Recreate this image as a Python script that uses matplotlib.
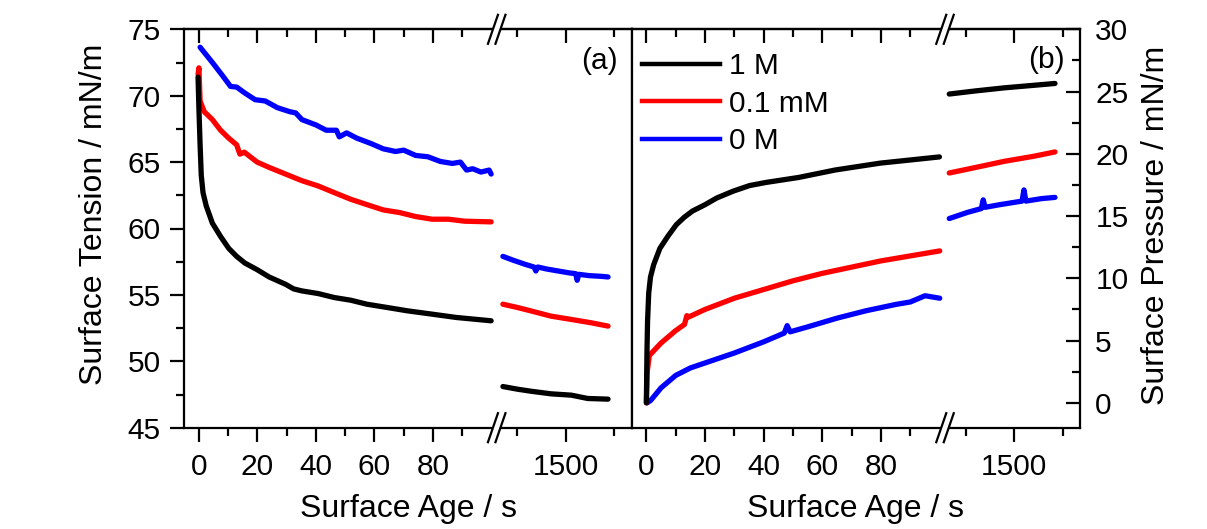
import matplotlib
matplotlib.use("Agg")
import matplotlib.pyplot as plt
from matplotlib.lines import Line2D
from matplotlib.patches import Polygon
from matplotlib.ticker import FixedLocator

plt.rcParams['font.family'] = ['Liberation Sans', 'DejaVu Sans']

# ---------------------------------------------------------------------------
# Data
# ---------------------------------------------------------------------------
# (a) surface tension, early times (s, mN/m)
a_black_t = [-0.3, 0.0, 0.4, 0.8, 1.4, 2.5, 4.6, 7.4, 10.2, 12.9, 15.7, 19.9, 24.0,
             29.6, 32.4, 35.2, 40.8, 46.3, 51.9, 57.4, 64.4, 71.3, 79.7, 88.0, 99.9]
a_black_g = [71.4, 69.0, 66.3, 64.0, 62.7, 61.7, 60.4, 59.4, 58.5, 57.9, 57.4, 56.9, 56.35,
             55.8, 55.45, 55.3, 55.1, 54.8, 54.6, 54.3, 54.05, 53.8, 53.55, 53.3, 53.05]

a_red_t = [-0.3, 0.0, 0.4, 1.8, 4.6, 7.4, 10.2, 12.9, 14.0, 15.5, 19.9, 24.0, 29.6,
           35.2, 40.8, 46.3, 51.9, 57.4, 63.0, 68.6, 74.1, 79.7, 85.3, 90.8, 99.9]
a_red_g = [71.6, 72.1, 69.6, 68.8, 68.2, 67.4, 66.8, 66.3, 65.6, 65.75, 65.0, 64.6, 64.1,
           63.6, 63.2, 62.7, 62.2, 61.8, 61.4, 61.2, 60.9, 60.7, 60.7, 60.55, 60.5]

a_blue_t = [0.4, 4.6, 8.1, 10.8, 12.9, 15.7, 19.2, 22.7, 26.8, 31.0, 33.1, 35.2, 40.0,
            43.5, 47.0, 48.0, 50.5, 54.0, 58.8, 63.0, 67.2, 70.0, 74.1, 78.3, 82.5,
            86.6, 89.4, 91.5, 93.6, 96.4, 99.2, 99.9]
a_blue_g = [73.65, 72.5, 71.5, 70.7, 70.65, 70.2, 69.7, 69.6, 69.1, 68.8, 68.7, 68.2, 67.8,
            67.4, 67.4, 66.9, 67.2, 66.8, 66.4, 66.0, 65.8, 65.9, 65.5, 65.4, 65.05,
            64.9, 65.0, 64.4, 64.5, 64.25, 64.4, 64.1]

# (a) surface tension, late times
a_black_t_late = [1175, 1250, 1318, 1423, 1528, 1612, 1717]
a_black_g_late = [48.1, 47.9, 47.75, 47.55, 47.45, 47.2, 47.15]
a_red_t_late = [1175, 1250, 1318, 1423, 1528, 1630, 1717]
a_red_g_late = [54.3, 54.05, 53.8, 53.4, 53.15, 52.9, 52.65]
a_blue_t_late = [1175, 1230, 1290, 1335, 1345, 1355, 1400, 1460, 1520, 1550, 1558,
                 1566, 1620, 1680, 1717]
a_blue_g_late = [57.9, 57.6, 57.3, 57.1, 56.8, 57.1, 56.95, 56.8, 56.65, 56.6, 56.1,
                 56.55, 56.45, 56.4, 56.35]

# (b) surface pressure, early times (s, mN/m)
b_black_t = [0.0, 0.2, 0.4, 0.8, 1.4, 2.5, 4.6, 7.4, 10.2, 12.9, 15.7, 19.9, 24.0,
             29.6, 35.2, 40.8, 51.9, 64.4, 79.7, 99.9]
b_black_p = [0.0, 4.0, 6.5, 8.8, 10.1, 11.1, 12.4, 13.4, 14.3, 14.9, 15.4, 15.9, 16.45,
             17.0, 17.45, 17.7, 18.1, 18.7, 19.25, 19.75]
b_red_t = [0.0, 0.3, 1.0, 5.0, 10.0, 13.0, 13.8, 14.5, 20.0, 30.0, 40.0, 50.0, 60.0,
           70.0, 80.0, 90.0, 100.0]
b_red_p = [0.0, 2.5, 3.8, 4.8, 5.8, 6.3, 7.0, 6.9, 7.5, 8.4, 9.1, 9.8, 10.4,
           10.9, 11.4, 11.8, 12.2]
b_blue_t = [0.3, 1.5, 5.0, 10.0, 15.0, 20.0, 30.0, 40.0, 47.0, 48.0, 49.0, 55.0, 65.0,
            75.0, 85.0, 90.0, 95.0, 100.0]
b_blue_p = [0.0, 0.2, 1.2, 2.2, 2.8, 3.2, 4.0, 4.9, 5.6, 6.2, 5.7, 6.1, 6.8,
            7.4, 7.9, 8.1, 8.6, 8.4]

# (b) surface pressure, late times
b_black_t_late = [1165, 1300, 1450, 1600, 1710]
b_black_p_late = [24.8, 25.05, 25.3, 25.5, 25.65]
b_red_t_late = [1165, 1300, 1450, 1600, 1710]
b_red_p_late = [18.46, 18.9, 19.4, 19.8, 20.15]
b_blue_t_late = [1165, 1260, 1330, 1340, 1350, 1420, 1540, 1550, 1560, 1640, 1710]
b_blue_p_late = [14.8, 15.3, 15.6, 16.3, 15.7, 15.9, 16.2, 17.1, 16.2, 16.4, 16.5]

labels = ["1 M", "0.1 mM", "0 M"]
colors = ["#000000", "#ff0000", "#0000ff"]

early_ticks, early_minor = [0, 20, 40, 60, 80], [10, 30, 50, 70, 90]
late_ticks, late_minor = [1500], [1250, 1750]

# ---------------------------------------------------------------------------
# Layout (pixel geometry of the reference)
# ---------------------------------------------------------------------------
W, H = 1207, 529
Y_TOP, Y_BOT = 29.3, 427.7
X_L0, X_LB, X_MID, X_RB, X_R1 = 184.3, 496.7, 631.7, 945.0, 1080.0
EARLY_LIM = (-5.0, 101.8)
LATE_LIM = (1143, 1839)

TICK_FS, LABEL_FS = 21.5, 23
LW_SPINE = 1.6
LW_DATA = 3.8


def px_rect(x0, x1):
    return [x0 / W, 1 - Y_BOT / H, (x1 - x0) / W, (Y_BOT - Y_TOP) / H]


fig = plt.figure(figsize=(W / 100, H / 100), dpi=100)
fig.patch.set_facecolor("white")

axL1 = fig.add_axes(px_rect(X_L0, X_LB))
axL2 = fig.add_axes(px_rect(X_LB, X_MID))
axR1 = fig.add_axes(px_rect(X_MID, X_RB))
axR2 = fig.add_axes(px_rect(X_RB, X_R1))


def style_x(ax, major, minor, lim):
    ax.set_xlim(*lim)
    ax.set_xticks(major)
    ax.xaxis.set_minor_locator(FixedLocator(minor))
    ax.tick_params(axis="x", which="both", direction="out", width=LW_SPINE,
                   labelsize=TICK_FS, pad=8.5)
    ax.tick_params(axis="x", which="major", length=10)
    ax.tick_params(axis="x", which="minor", length=5.5)
    for s in ax.spines.values():
        s.set_linewidth(LW_SPINE)
    # inward ticks along the top edge
    top = ax.secondary_xaxis("top")
    top.set_xticks(major, labels=[])
    top.xaxis.set_minor_locator(FixedLocator(minor))
    top.tick_params(which="both", direction="in", width=LW_SPINE)
    top.tick_params(which="major", length=10)
    top.tick_params(which="minor", length=5.5)
    top.spines["top"].set_linewidth(LW_SPINE)


style_x(axL1, early_ticks, early_minor, EARLY_LIM)
style_x(axR1, early_ticks, early_minor, EARLY_LIM)
style_x(axL2, late_ticks, late_minor, LATE_LIM)
style_x(axR2, late_ticks, late_minor, LATE_LIM)

for ax in (axL1, axL2):
    ax.set_ylim(45, 75)
for ax in (axR1, axR2):
    ax.set_ylim(-2, 30)

axL1.spines["right"].set_visible(False)
axL2.spines["left"].set_visible(False)
axR1.spines["right"].set_visible(False)
axR2.spines["left"].set_visible(False)

axL1.set_yticks([45, 50, 55, 60, 65, 70, 75])
axL1.yaxis.set_minor_locator(FixedLocator([47.5, 52.5, 57.5, 62.5, 67.5, 72.5]))
axL1.tick_params(axis="y", which="both", direction="out", width=LW_SPINE,
                 labelsize=TICK_FS, pad=7)
axL1.tick_params(axis="y", which="major", length=10)
axL1.tick_params(axis="y", which="minor", length=5.5)

for ax in (axL2, axR1):
    ax.tick_params(axis="y", which="both", left=False, right=False,
                   labelleft=False, labelright=False)

axR2.set_yticks([0, 5, 10, 15, 20, 25, 30])
axR2.yaxis.set_minor_locator(FixedLocator([2.5, 7.5, 12.5, 17.5, 22.5, 27.5]))
axR2.tick_params(axis="y", which="both", direction="in", left=False, right=True,
                 labelleft=False, labelright=True, width=LW_SPINE,
                 labelsize=TICK_FS, pad=11)
axR2.tick_params(axis="y", which="major", length=10)
axR2.tick_params(axis="y", which="minor", length=5.5)

# ---------------------------------------------------------------------------
# Curves
# ---------------------------------------------------------------------------
a_early = [(a_black_t, a_black_g), (a_red_t, a_red_g), (a_blue_t, a_blue_g)]
a_late = [(a_black_t_late, a_black_g_late), (a_red_t_late, a_red_g_late),
          (a_blue_t_late, a_blue_g_late)]
b_early = [(b_black_t, b_black_p), (b_red_t, b_red_p), (b_blue_t, b_blue_p)]
b_late = [(b_black_t_late, b_black_p_late), (b_red_t_late, b_red_p_late),
          (b_blue_t_late, b_blue_p_late)]

for ax, series in ((axL1, a_early), (axL2, a_late), (axR1, b_early), (axR2, b_late)):
    # blue first, black on top
    for (t, v), c in reversed(list(zip(series, colors))):
        ax.plot(t, v, color=c, lw=LW_DATA, solid_joinstyle="round",
                solid_capstyle="round")

# ---------------------------------------------------------------------------
# Axis break marks  //
# ---------------------------------------------------------------------------
def fig_xy(x, y):
    return x / W, 1 - y / H


def break_mark(xb, yb):
    dx, dy, sep = 5.0, 14.5, 7.5
    c1, c2 = xb - sep / 2, xb + sep / 2
    poly = [fig_xy(c1 - dx, yb + dy), fig_xy(c1 + dx, yb - dy),
            fig_xy(c2 + dx, yb - dy), fig_xy(c2 - dx, yb + dy)]
    fig.add_artist(Polygon(poly, closed=True, facecolor="white",
                           edgecolor="none", zorder=5))
    for c in (c1, c2):
        (x0, y0), (x1, y1) = fig_xy(c - dx, yb + dy), fig_xy(c + dx, yb - dy)
        fig.add_artist(Line2D([x0, x1], [y0, y1], color="black",
                              lw=LW_SPINE, zorder=6))


for xb in (X_LB, X_RB):
    for yb in (Y_TOP, Y_BOT):
        break_mark(xb, yb)

# ---------------------------------------------------------------------------
# Labels, legend, panel letters
# ---------------------------------------------------------------------------
fig.text(*fig_xy((X_L0 + X_MID) / 2, 517), "Surface Age / s", fontsize=LABEL_FS,
         ha="center", va="baseline")
fig.text(*fig_xy((X_MID + X_R1) / 2, 517), "Surface Age / s", fontsize=LABEL_FS,
         ha="center", va="baseline")
fig.text(*fig_xy(94.5, 214), "Surface Tension / mN/m", fontsize=LABEL_FS,
         rotation=90, ha="center", va="center")
fig.text(*fig_xy(1156, 225), "Surface Pressure / mN/m", fontsize=LABEL_FS,
         rotation=90, ha="center", va="center")

fig.text(*fig_xy(618, 61), "(a)", fontsize=TICK_FS, ha="right", va="center")
fig.text(*fig_xy(1065, 60), "(b)", fontsize=TICK_FS, ha="right", va="center")

handles = [Line2D([], [], color=c, lw=3.2) for c in colors]
axR1.legend(handles, labels, loc="upper left",
            bbox_to_anchor=fig_xy(642, 52), bbox_transform=fig.transFigure,
            frameon=False, fontsize=TICK_FS, handlelength=2.6,
            handletextpad=0.3, labelspacing=0.32, borderpad=0, borderaxespad=0)

fig.savefig("out.png", dpi=100, facecolor="white")
